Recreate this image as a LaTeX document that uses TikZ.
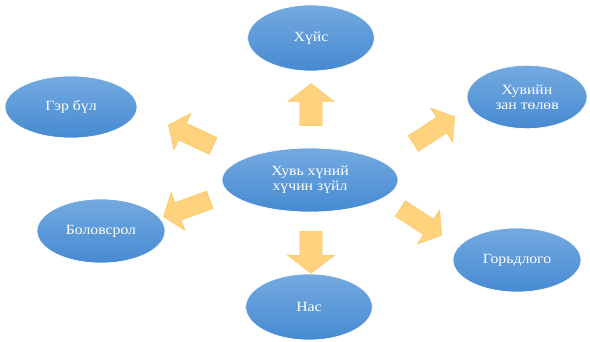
\documentclass[tikz,border=0pt]{standalone}
\usepackage{fontspec}
\setmainfont[FakeStretch=1.12]{Liberation Serif}
\usetikzlibrary{shapes.geometric,shapes.arrows}

\definecolor{factortop}{RGB}{116,170,224}
\definecolor{factorbot}{RGB}{70,138,210}
\definecolor{pushfill}{RGB}{255,210,125}
\definecolor{pushline}{RGB}{250,196,95}

\tikzset{
  factor/.style={ellipse, top color=factortop, bottom color=factorbot,
    draw=white, line width=0.6pt, text=white, align=center,
    font=\fontsize{12}{13}\selectfont, inner sep=0pt},
  push/.style={single arrow, fill=pushfill, draw=pushline, line width=0.4pt,
    single arrow tip angle=105, single arrow head indent=0pt},
  pushbig/.style={push, minimum height=1.26cm, inner sep=0.33cm,
    single arrow head extend=0.36cm},
  pushsmall/.style={push, minimum height=1.48cm, inner sep=0.27cm,
    single arrow head extend=0.33cm}
}

\begin{document}
\begin{tikzpicture}[x=0.03cm,y=0.03cm]
\useasboundingbox (0,0) rectangle (590,342);
% the factors round the middle
\node[factor, minimum width=5.28cm, minimum height=1.92cm] (core) at (310,162) {Хувь хүний\\хүчин зүйл};
\node[factor, minimum width=3.8cm, minimum height=1.98cm] (sex) at (311,304) {Хүйс};
\node[factor, minimum width=3.6cm, minimum height=1.9cm] (trait) at (527,245) {Хувийн\\зан төлөв};
\node[factor, minimum width=3.96cm, minimum height=1.86cm] (family) at (71,235) {Гэр бүл};
\node[factor, minimum width=3.84cm, minimum height=1.92cm] (school) at (101,111) {Боловсрол};
\node[factor, minimum width=3.84cm, minimum height=1.92cm] (hope) at (517,82) {Горьдлого};
\node[factor, minimum width=3.8cm, minimum height=1.98cm] (age) at (309,35) {Нас};
% block arrows pointing out of the middle
\node[pushbig, rotate=90] (toSex) at (311,233) {};
\node[pushbig, rotate=-90] (toAge) at (311,94) {};
\node[pushsmall, rotate=33] (toTrait) at (431,210) {};
\node[pushsmall, rotate=-33] (toHope) at (418,122) {};
\node[pushsmall, rotate=155] (toFamily) at (194,205) {};
\node[pushsmall, rotate=200] (toSchool) at (190,135) {};
\end{tikzpicture}
\end{document}
